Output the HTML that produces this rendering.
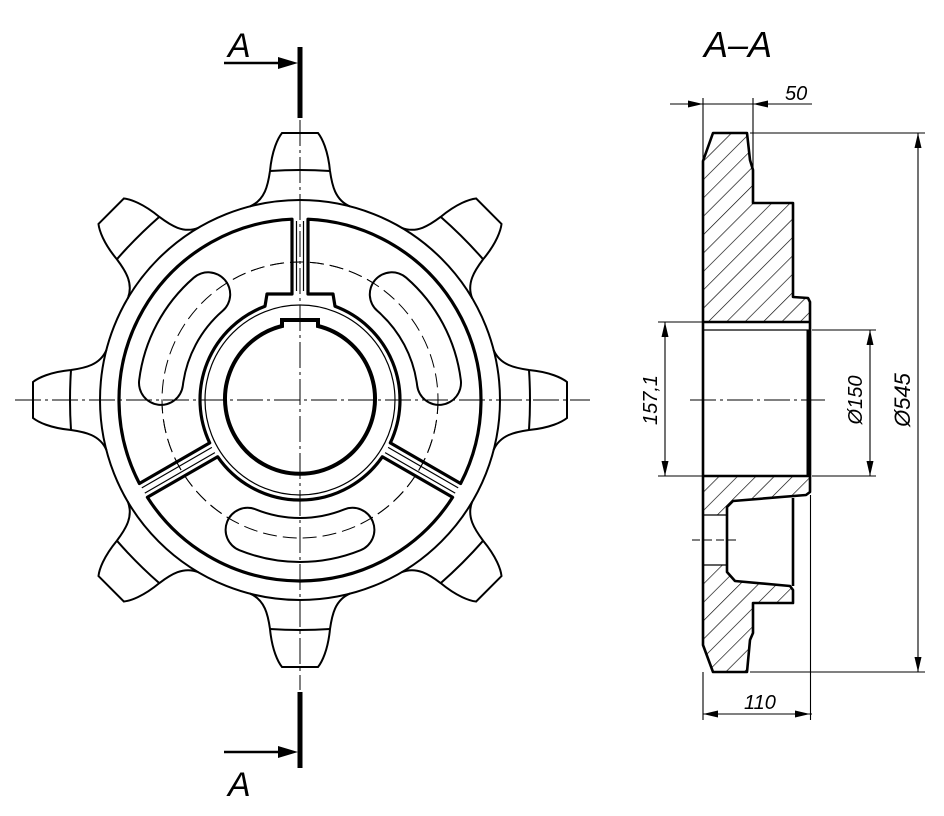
<!DOCTYPE html>
<html><head><meta charset="utf-8"><style>
html,body{margin:0;padding:0;background:#fff}
svg{display:block}
text{font-family:"Liberation Sans",sans-serif;font-style:italic;fill:#000}
</style></head><body>
<svg width="944" height="816" viewBox="0 0 944 816" xmlns="http://www.w3.org/2000/svg">
<defs>
<pattern id="h" patternUnits="userSpaceOnUse" width="13" height="13" patternTransform="rotate(45)">
<line x1="0" y1="0" x2="0" y2="13" stroke="#000" stroke-width="1.3"/>
</pattern>
<g id="tooth">
<path d="M-50,-193.6 C-35,-200 -32,-215 -30,-229 C-28,-250 -22,-262 -18,-267 L18,-267 C22,-262 28,-250 30,-229 C32,-215 35,-200 50,-193.6" fill="#fff" stroke="#000" stroke-width="2"/>
<path d="M-30,-229 Q0,-231 30,-229" fill="none" stroke="#000" stroke-width="2"/>
</g>
</defs>
<rect width="944" height="816" fill="#fff"/>

<!-- MAIN VIEW -->
<g transform="translate(300,400)">
<use href="#tooth" transform="rotate(0)"/>
<use href="#tooth" transform="rotate(45)"/>
<use href="#tooth" transform="rotate(90)"/>
<use href="#tooth" transform="rotate(135)"/>
<use href="#tooth" transform="rotate(180)"/>
<use href="#tooth" transform="rotate(225)"/>
<use href="#tooth" transform="rotate(270)"/>
<use href="#tooth" transform="rotate(315)"/>
<circle r="200" fill="none" stroke="#000" stroke-width="2"/>
<circle r="138" fill="none" stroke="#000" stroke-width="1" stroke-dasharray="14 6"/>
</g>
<!-- pockets -->
<g fill="none" stroke="#000" stroke-width="3.2" stroke-linejoin="round">
<path d="M292,219.2 A181,181 0 0 0 139.4,483.5 L209.7,442.9 A100,100 0 0 1 265,306.3 L267,294 L292,294 Z"/>
<path d="M308,219.2 A181,181 0 0 1 460.6,483.5 L390.3,442.9 A100,100 0 0 0 335,306.3 L333,294 L308,294 Z"/>
<path d="M147.4,497.3 A181,181 0 0 0 452.6,497.3 L382.3,456.8 A100,100 0 0 1 217.7,456.8 Z"/>
</g>
<g fill="none" stroke="#000" stroke-width="1.2">
<path d="M296.5,221 L296.5,291 M303.5,221 L303.5,291"/>
<path d="M214.9,452.6 L144.8,493.1 M211.9,447.4 L141.8,487.9"/>
<path d="M385.1,452.6 L455.2,493.1 M388.1,447.4 L458.2,487.9"/>
<circle cx="300" cy="400" r="95"/>
</g>
<!-- slots -->
<g fill="none" stroke-linecap="round">
<path d="M208.2,294.3 A140,140 0 0 0 161,382.9" stroke="#000" stroke-width="46"/>
<path d="M208.2,294.3 A140,140 0 0 0 161,382.9" stroke="#fff" stroke-width="42"/>
<path d="M391.8,294.3 A140,140 0 0 1 439,382.9" stroke="#000" stroke-width="46"/>
<path d="M391.8,294.3 A140,140 0 0 1 439,382.9" stroke="#fff" stroke-width="42"/>
<path d="M247.6,529.8 A140,140 0 0 0 352.4,529.8" stroke="#000" stroke-width="46"/>
<path d="M247.6,529.8 A140,140 0 0 0 352.4,529.8" stroke="#fff" stroke-width="42"/>
</g>
<g transform="translate(300,400)"><circle r="138" fill="none" stroke="#000" stroke-width="1" stroke-dasharray="14 6"/></g>
<!-- bore -->
<path d="M282,326 L282,320 L318,320 L318,326 A75,75 0 1 1 282,326 Z" fill="#fff" stroke="#000" stroke-width="4"/>
<!-- centerlines -->
<g stroke="#000" stroke-width="1" fill="none" stroke-dasharray="26 4 3 4">
<line x1="15" y1="400" x2="590" y2="400"/>
<line x1="300" y1="120" x2="300" y2="690"/>
</g>
<!-- section marks -->
<g stroke="#000" fill="#000">
<line x1="300" y1="47" x2="300" y2="118" stroke-width="5"/>
<line x1="224" y1="63" x2="282" y2="63" stroke-width="2.5"/>
<polygon points="298,63 278,57 278,69" stroke="none"/>
<line x1="300" y1="692" x2="300" y2="768" stroke-width="5"/>
<line x1="224" y1="752" x2="282" y2="752" stroke-width="2.5"/>
<polygon points="298,752 278,746 278,758" stroke="none"/>
</g>
<text x="228" y="57" font-size="34">A</text>
<text x="228" y="796" font-size="34">A</text>

<!-- SECTION VIEW -->
<text x="704" y="57" font-size="36">A–A</text>
<g fill="url(#h)" stroke="none">
<polygon points="703,161 713,133 747,133 750,160 753,170 753,203 793,203 793,297 808,298 810,302 810,322 703,322"/>
<polygon points="703,476 810,476 810,492 806,495 733,501 727,507 727,515 703,515"/>
<polygon points="703,565 727,565 727,572 735,581 790,586 793,590 793,603 753,603 753,633 750,640 747,672 713,672 703,645"/>
</g>
<g fill="none" stroke="#000" stroke-width="2.6" stroke-linejoin="round">
<path d="M703,645 L703,161 L713,133 L747,133 L750,160 L753,170 L753,203 L793,203 L793,297 L808,298 L810,302 L810,492 L806,495 L733,501 L727,507 L727,572 L735,581 L790,586 L793,590 L793,603 L753,603 L753,633 L750,640 L747,672 L713,672 Z"/>
<line x1="703" y1="322" x2="810" y2="322"/>
<line x1="703" y1="476" x2="810" y2="476"/>
<line x1="808.5" y1="330" x2="808.5" y2="476" stroke-width="4"/>
<line x1="793" y1="498" x2="793" y2="586"/>
</g>
<g stroke="#000" stroke-width="1.3" fill="none">
<line x1="703" y1="330" x2="810" y2="330"/>
<line x1="703" y1="515" x2="727" y2="515"/>
<line x1="703" y1="565" x2="727" y2="565"/>
</g>
<g stroke="#000" stroke-width="1" fill="none" stroke-dasharray="26 4 3 4">
<line x1="690" y1="400" x2="825" y2="400"/>
</g>
<line x1="692" y1="540" x2="740" y2="540" stroke="#000" stroke-width="1" stroke-dasharray="8 4"/>

<!-- dimensions -->
<g stroke="#000" stroke-width="1.1" fill="none">
<line x1="670" y1="104" x2="812" y2="104"/>
<line x1="703" y1="98" x2="703" y2="161"/>
<line x1="753" y1="98" x2="753" y2="170"/>
<line x1="918" y1="133" x2="918" y2="672"/>
<line x1="750" y1="133" x2="925" y2="133"/>
<line x1="750" y1="672" x2="925" y2="672"/>
<line x1="870" y1="330" x2="870" y2="476"/>
<line x1="812" y1="330" x2="876" y2="330"/>
<line x1="812" y1="476" x2="876" y2="476"/>
<line x1="665" y1="322" x2="665" y2="476"/>
<line x1="658" y1="322" x2="703" y2="322"/>
<line x1="658" y1="476" x2="703" y2="476"/>
<line x1="703" y1="714" x2="812" y2="714"/>
<line x1="703" y1="672" x2="703" y2="720"/>
<line x1="810.5" y1="495" x2="810.5" y2="720"/>
</g>
<g fill="#000">
<polygon points="703,104 688,100.5 688,107.5"/>
<polygon points="753,104 768,100.5 768,107.5"/>
<polygon points="918,133 914.5,148 921.5,148"/>
<polygon points="918,672 914.5,657 921.5,657"/>
<polygon points="870,330 866.5,345 873.5,345"/>
<polygon points="870,476 866.5,461 873.5,461"/>
<polygon points="665,322 661.5,337 668.5,337"/>
<polygon points="665,476 661.5,461 668.5,461"/>
<polygon points="703,714 718,710.5 718,717.5"/>
<polygon points="810,714 795,710.5 795,717.5"/>
</g>
<text x="785" y="100" font-size="20">50</text>
<text x="744" y="709" font-size="20">110</text>
<text transform="translate(657,400) rotate(-90)" font-size="20" text-anchor="middle">157,1</text>
<text transform="translate(862,400) rotate(-90)" font-size="20" text-anchor="middle">Ø150</text>
<text transform="translate(910,400) rotate(-90)" font-size="22" text-anchor="middle">Ø545</text>
</svg>
</body></html>
